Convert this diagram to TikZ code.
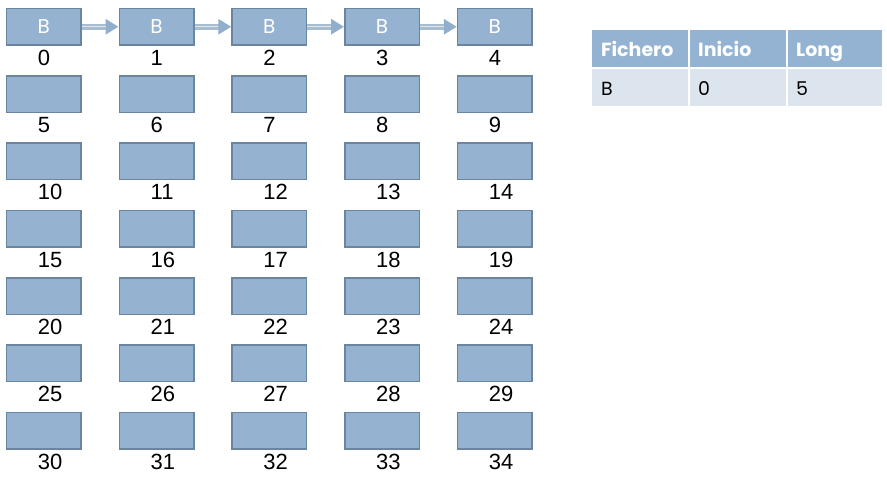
\documentclass[tikz,border=0pt]{standalone}
\usepackage{fontspec}
\setmainfont{Liberation Sans}
\newfontfamily\gothic{Poppins}
\usetikzlibrary{arrows.meta}
\definecolor{boxfill}{RGB}{149,179,208}
\definecolor{boxline}{RGB}{108,133,158}
\definecolor{arrowc}{RGB}{145,175,205}
\definecolor{shaftc}{RGB}{170,188,207}
\definecolor{shaftin}{RGB}{222,230,238}
\definecolor{hdrfill}{RGB}{148,179,210}
\definecolor{rowfill}{RGB}{220,228,238}
\begin{document}
\begin{tikzpicture}[x=1pt,y=-1pt,
  blk/.style={draw=boxline, line width=1.5pt, fill=boxfill, minimum width=74.5pt,
    minimum height=36.5pt, inner sep=0pt, anchor=north west,
    text=white, font=\gothic\fontsize{20}{20}\selectfont},
  num/.style={anchor=base west, inner sep=0pt, font=\fontsize{22}{22}\selectfont},
  link/.style={line width=6pt, draw=shaftc, -{Triangle[length=13pt,width=15pt,fill=arrowc,color=arrowc]},
    postaction={draw=shaftin, line width=1.5pt, shorten >=13pt, -}},
  hdr/.style={fill=hdrfill, draw=none},
  cell/.style={fill=rowfill, draw=none},
  htxt/.style={anchor=base west, inner sep=0pt, text=white, font=\gothic\bfseries\fontsize{19}{19}\selectfont},
  ctxt/.style={anchor=base west, inner sep=0pt, text=black, font=\gothic\fontsize{19}{19}\selectfont}]
\useasboundingbox (0,0) rectangle (887,481);
\foreach \r in {0,...,6}{
  \foreach \c in {0,...,4}{
    \pgfmathtruncatemacro\n{\r*5+\c}
    \pgfmathsetmacro\bx{5.75+112.75*\c}
    \pgfmathsetmacro\by{7.75+67.33*\r}
    \pgfmathsetmacro\ly{\by+36.5+21}
    \ifnum\r=0
      \node[blk] (b\n) at (\bx,\by) {B};
    \else
      \node[blk] (b\n) at (\bx,\by) {};
    \fi
    \node[num] (l\n) at (\bx+32,\ly) {\n};
  }
}
\foreach \i [evaluate=\i as \j using int(\i+1)] in {0,...,3}{
  \draw[link] (b\i.east) -- (b\j.west);
}
% table
\path[hdr] (592,30) rectangle (688,67) coordinate (h1);
\path[hdr] (689.5,30) rectangle (786,67) coordinate (h2);
\path[hdr] (787.5,30) rectangle (882,67) coordinate (h3);
\path[cell] (592,69.5) rectangle (688,106) coordinate (c1);
\path[cell] (689.5,69.5) rectangle (786,106) coordinate (c2);
\path[cell] (787.5,69.5) rectangle (882,106) coordinate (c3);
\node[htxt] (t1) at (601,56.5) {Fichero};
\node[htxt] (t2) at (698,56.5) {Inicio};
\node[htxt] (t3) at (796,56.5) {Long};
\node[ctxt] (d1) at (601,95.5) {B};
\node[ctxt] (d2) at (698,95.5) {0};
\node[ctxt] (d3) at (796,95.5) {5};
\end{tikzpicture}
\end{document}
